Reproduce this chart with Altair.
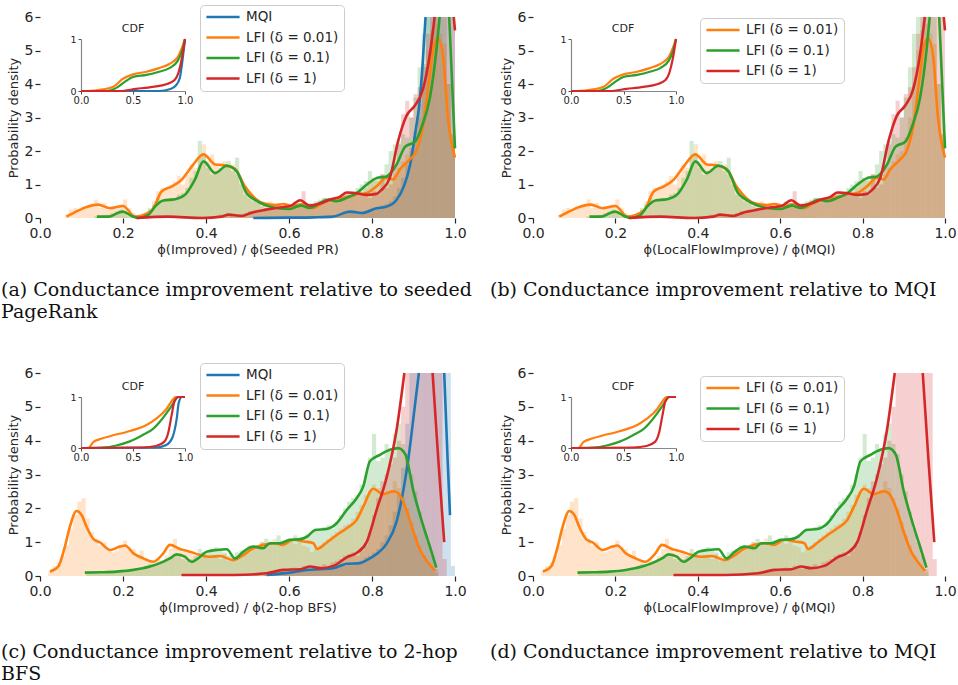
import altair as alt
import pandas as pd

W, H = 958, 685
BIN = 0.01

SERIES = ["MQI", "LFI (δ = 0.01)", "LFI (δ = 0.1)", "LFI (δ = 1)"]
COLORS = ["#1f77b4", "#ff7f0e", "#2ca02c", "#d62728"]

# ---------------- histogram heights (bin width 0.01) ----------------
# set A: panels (a) and (b)
H_A_MQI_START = 0.51
H_A_MQI = [0.02, 0.0, 0.03, 0.0, 0.02, 0.03, 0.0, 0.04, 0.02, 0.03,
           0.03, 0.05, 0.02, 0.04, 0.05, 0.03, 0.06, 0.05, 0.08, 0.06,
           0.1, 0.08, 0.12, 0.15, 0.22, 0.18, 0.15, 0.2, 0.26, 0.3,
           0.32, 0.38, 0.42, 0.5, 0.65, 0.9, 1.2, 1.6, 2.1, 2.6,
           3.4, 4.6, 6.5, 8.5, 10, 11, 10, 9, 7.5]
H_A_O_START = 0.06
H_A_O = [0.1, 0.25, 0.3, 0.2, 0.35, 0.3, 0.4, 0.55, 0.3, 0.45,
         0.25, 0.35, 0.3, 0.4, 0.55, 0.3, 0.15, 0.05, 0.08, 0.1,
         0.25, 0.5, 0.8, 0.9, 0.85, 1.0, 1.1, 1.25, 1.0, 1.3,
         1.6, 1.5, 1.8, 2.2, 1.7, 1.9, 1.6, 1.5, 1.7, 1.55,
         1.6, 1.3, 1.1, 0.9, 0.8, 0.6, 0.55, 0.5, 0.45, 0.5,
         0.4, 0.45, 0.35, 0.3, 0.35, 0.5, 0.4, 0.3, 0.45, 0.35,
         0.4, 0.5, 0.6, 0.45, 0.5, 0.45, 0.6, 0.7, 0.65, 0.75,
         0.8, 0.7, 0.9, 1.1, 1.2, 1.1, 1.3, 1.25, 1.2, 1.3,
         1.5, 1.7, 1.9, 2.0, 2.4, 3.0, 4.0, 5.0, 5.6, 5.8,
         5.5, 5.2, 4.0, 2.5]
H_A_G_START = 0.13
H_A_G = [0.05, 0.05, 0.08, 0.1, 0.15, 0.2, 0.25, 0.15, 0.05, 0.02,
         0.0, 0.05, 0.1, 0.3, 0.4, 0.6, 0.5, 0.55, 0.6, 0.55,
         0.7, 0.75, 0.9, 1.2, 1.4, 2.3, 1.9, 1.5, 1.3, 1.4,
         1.45, 1.6, 1.7, 1.4, 1.8, 1.0, 0.7, 0.6, 0.5, 0.45,
         0.35, 0.3, 0.3, 0.25, 0.3, 0.35, 0.4, 0.3, 0.35, 0.4,
         0.3, 0.35, 0.45, 0.5, 0.55, 0.6, 0.5, 0.55, 0.5, 0.6,
         0.65, 0.7, 0.8, 0.9, 1.0, 1.1, 1.4, 1.2, 1.25, 1.3,
         1.6, 2.0, 2.2, 2.3, 2.5, 2.4, 3.0, 3.6, 4.5, 5.5,
         7, 9, 10, 9, 7, 4, 2.5]
H_A_R_START = 0.23
H_A_R = [0.02, 0.0, 0.03, 0.0, 0.02, 0.03, 0.05, 0.02, 0.0, 0.03,
         0.02, 0.05, 0.03, 0.0, 0.04, 0.05, 0.03, 0.02, 0.04, 0.05,
         0.1, 0.12, 0.08, 0.05, 0.1, 0.12, 0.15, 0.2, 0.15, 0.25,
         0.2, 0.3, 0.25, 0.3, 0.35, 0.3, 0.4, 0.35, 0.45, 0.45,
         0.8, 0.35, 0.3, 0.45, 0.4, 0.5, 0.55, 0.6, 0.5, 0.6,
         0.75, 0.8, 0.7, 0.65, 0.7, 0.75, 0.6, 0.8, 0.7, 1.3,
         0.9, 1.0, 1.5, 2.2, 3.1, 3.5, 3.0, 3.7, 3.9, 4.5,
         5.5, 7, 8, 9, 10, 9, 8]

# set C: panels (c) and (d)
H_C_MQI_START = 0.54
H_C_MQI = [0.03, 0.05, 0.04, 0.08, 0.1, 0.12, 0.1, 0.15, 0.18, 0.2,
           0.15, 0.2, 0.22, 0.2, 0.25, 0.22, 0.28, 0.3, 0.35, 0.3,
           0.4, 0.35, 0.4, 0.45, 0.55, 0.6, 0.7, 0.8, 1.0, 1.2,
           1.5, 1.9, 2.4, 3.2, 4.5, 6.5, 8, 10, 11, 10,
           9, 8, 7, 7, 6.5, 0.3]
H_C_O_START = 0.02
H_C_O = [0.15, 0.3, 0.4, 0.6, 0.9, 1.4, 1.8, 2.2, 2.3, 1.7,
         1.3, 1.1, 0.9, 1.0, 0.8, 0.7, 0.75, 0.9, 1.05, 0.85,
         0.8, 0.6, 0.75, 0.5, 0.45, 0.4, 0.5, 0.45, 0.6, 0.8,
         1.1, 0.85, 0.7, 0.75, 0.65, 0.6, 0.55, 0.7, 0.6, 0.55,
         0.6, 0.5, 0.65, 0.45, 0.5, 0.55, 0.6, 0.75, 0.7, 0.85,
         0.9, 1.0, 0.85, 0.95, 1.1, 0.9, 1.0, 1.05, 1.1, 0.95,
         1.0, 0.9, 0.85, 0.7, 0.8, 0.9, 1.0, 1.1, 1.2, 1.3,
         1.4, 1.5, 1.55, 1.7, 1.9, 2.1, 2.4, 2.5, 2.7, 2.6,
         2.5, 2.4, 2.5, 2.8, 2.6, 2.3, 2.0, 1.6, 1.2, 0.9,
         0.6, 0.4, 0.25, 0.1]
H_C_G_START = 0.11
H_C_G = [0.05, 0.08, 0.1, 0.08, 0.1, 0.12, 0.1, 0.1, 0.12, 0.1,
         0.15, 0.15, 0.2, 0.25, 0.3, 0.35, 0.3, 0.4, 0.45, 0.5,
         0.55, 0.65, 0.6, 0.5, 0.45, 0.5, 0.6, 0.8, 0.7, 0.75,
         0.8, 0.85, 0.75, 0.7, 0.6, 0.55, 0.7, 0.75, 0.8, 0.9,
         0.8, 0.85, 1.0, 1.1, 1.0, 0.95, 1.2, 1.05, 1.0, 1.1,
         1.2, 1.1, 1.15, 1.25, 1.3, 1.4, 1.35, 1.45, 1.5, 1.4,
         1.6, 1.8, 2.0, 2.2, 2.3, 2.4, 2.7, 3.0, 3.5, 4.2,
         3.4, 3.5, 3.9, 3.7, 4.2, 4.5, 3.9, 3.6, 3.0, 2.5,
         1.9, 1.4, 1.0, 0.6, 0.2]
H_C_R_START = 0.34
H_C_R = [0.02, 0.0, 0.03, 0.02, 0.0, 0.03, 0.02, 0.04, 0.0, 0.03,
         0.02, 0.03, 0.05, 0.04, 0.03, 0.06, 0.05, 0.08, 0.06, 0.1,
         0.08, 0.12, 0.15, 0.18, 0.2, 0.15, 0.22, 0.25, 0.2, 0.3,
         0.25, 0.22, 0.28, 0.3, 0.35, 0.3, 0.4, 0.45, 0.5, 0.6,
         0.65, 0.7, 0.6, 0.75, 0.9, 1.3, 1.8, 2.3, 2.8, 3.0,
         3.3, 3.5, 4.0, 5.0, 6.5, 8, 10, 11, 12, 11,
         9, 8, 7, 0.5]

# ---------------- density curves (None = curve leaves the 0-6 window) ----------------
K_A_MQI_X = [0.514, 0.60, 0.66, 0.706, 0.747, 0.775, 0.811, 0.835, 0.859, 0.877, 0.892, 0.905, 0.915, 0.922, 0.929]
K_A_MQI_Y = [0.0, 0.01, 0.02, 0.04, 0.19, 0.15, 0.29, 0.34, 0.54, 0.95, 1.6, 2.6, 3.5, 4.6, 6.0]
K_A_O_X = [0.064, 0.092, 0.108, 0.14, 0.169, 0.20, 0.229, 0.269, 0.293, 0.317, 0.341, 0.366, 0.394, 0.422,
           0.446, 0.47, 0.494, 0.518, 0.538, 0.57, 0.586, 0.61, 0.634, 0.658, 0.682, 0.706, 0.73, 0.763,
           0.787, 0.811, 0.835, 0.851, 0.867, 0.891, 0.907, 0.923, 0.939, 0.951, 0.959, 0.971, 0.983, 1.0]
K_A_O_Y = [0.04, 0.22, 0.31, 0.40, 0.29, 0.36, 0.04, 0.22, 0.79, 0.94, 1.14, 1.54, 1.90, 1.6,
           1.57, 1.47, 0.94, 0.59, 0.44, 0.39, 0.42, 0.36, 0.42, 0.30, 0.45, 0.55, 0.6, 0.7,
           0.75, 0.95, 1.2, 1.15, 1.45, 1.75, 2.0, 2.75, 4.25, 5.24, 5.36, 4.85, 3.0, 1.8]
K_A_G_X = [0.137, 0.165, 0.189, 0.20, 0.221, 0.237, 0.261, 0.277, 0.297, 0.325, 0.349, 0.373, 0.394,
           0.422, 0.45, 0.474, 0.498, 0.518, 0.542, 0.57, 0.602, 0.627, 0.65, 0.675, 0.695, 0.715,
           0.739, 0.763, 0.787, 0.811, 0.835, 0.859, 0.88, 0.904, 0.92, 0.94, 0.956, 0.963, None, 0.986, 1.0]
K_A_G_Y = [0.04, 0.04, 0.16, 0.19, 0.06, 0.0, 0.09, 0.34, 0.52, 0.56, 0.69, 1.14, 1.69,
           1.34, 1.56, 1.39, 0.74, 0.54, 0.39, 0.30, 0.27, 0.37, 0.30, 0.45, 0.55, 0.50,
           0.60, 0.74, 0.99, 1.19, 1.24, 1.59, 2.13, 2.28, 2.73, 3.62, 5.11, 6.0, None, 6.0, 2.08]
K_A_R_X = [0.233, 0.309, 0.39, 0.438, 0.454, 0.486, 0.51, 0.546, 0.586, 0.602, 0.627, 0.65, 0.675, 0.699,
           0.723, 0.739, 0.763, 0.787, 0.811, 0.823, 0.843, 0.863, 0.883, 0.903, 0.923, 0.939, 0.951,
           None, 0.997, 1.0]
K_A_R_Y = [0.0, 0.04, 0.0, 0.04, 0.1, 0.06, 0.16, 0.25, 0.33, 0.35, 0.53, 0.37, 0.43, 0.55,
           0.64, 0.76, 0.74, 0.69, 0.72, 0.84, 1.2, 2.3, 3.05, 3.35, 3.85, 4.85, 6.0,
           None, 6.0, 5.6]

K_C_MQI_X = [0.546, 0.602, 0.643, 0.675, 0.707, 0.739, 0.771, 0.787, 0.811, 0.835, 0.859, 0.872, 0.888,
             0.903, 0.913, None, 0.974, 0.982, 0.988]
K_C_MQI_Y = [0.03, 0.1, 0.18, 0.2, 0.23, 0.36, 0.38, 0.47, 0.65, 0.95, 1.6, 2.3, 3.5,
             5.0, 6.0, None, 6.0, 3.5, 1.8]
K_C_O_X = [0.024, 0.044, 0.06, 0.072, 0.088, 0.1, 0.112, 0.129, 0.145, 0.169, 0.193, 0.205, 0.225, 0.249,
           0.273, 0.297, 0.313, 0.337, 0.361, 0.386, 0.41, 0.434, 0.466, 0.49, 0.514, 0.538, 0.562, 0.586,
           0.61, 0.635, 0.659, 0.667, 0.691, 0.715, 0.739, 0.763, 0.779, 0.803, 0.827, 0.851, 0.863, 0.88,
           0.90, 0.916, 0.935, 0.952]
K_C_O_Y = [0.13, 0.28, 0.87, 1.46, 1.92, 1.81, 1.46, 1.09, 0.99, 0.77, 0.87, 0.90, 0.67, 0.52,
           0.42, 0.67, 0.92, 0.80, 0.72, 0.62, 0.57, 0.59, 0.47, 0.62, 0.82, 0.92, 0.97, 0.92,
           1.07, 1.02, 0.97, 0.80, 0.99, 1.21, 1.41, 1.66, 2.05, 2.58, 2.42, 2.50, 2.45, 2.05,
           1.3, 0.77, 0.4, 0.15]
K_C_G_X = [0.108, 0.145, 0.185, 0.225, 0.265, 0.289, 0.313, 0.329, 0.349, 0.365, 0.386, 0.402, 0.426,
           0.45, 0.47, 0.49, 0.514, 0.538, 0.554, 0.578, 0.602, 0.627, 0.643, 0.663, 0.691, 0.715,
           0.739, 0.763, 0.779, 0.795, 0.819, 0.843, 0.863, 0.88, 0.90, 0.923, 0.94, 0.955]
K_C_G_Y = [0.1, 0.11, 0.13, 0.18, 0.28, 0.38, 0.52, 0.64, 0.57, 0.42, 0.57, 0.72, 0.77,
           0.79, 0.52, 0.72, 0.87, 0.82, 0.97, 0.97, 1.07, 1.09, 1.16, 1.36, 1.39, 1.56,
           1.95, 2.30, 2.65, 3.39, 3.58, 3.73, 3.78, 3.6, 2.5, 1.5, 0.85, 0.25]
K_C_R_X = [0.341, 0.466, 0.546, 0.586, 0.627, 0.651, 0.675, 0.707, 0.739, 0.763, 0.787, 0.811, 0.835,
           0.859, 0.878, None, 0.946, 0.96, 0.974]
K_C_R_Y = [0.03, 0.03, 0.08, 0.18, 0.2, 0.28, 0.23, 0.3, 0.55, 0.68, 1.0, 1.95, 2.9,
           4.3, 6.0, None, 6.0, 3.4, 1.0]

# ---------------- CDF insets ----------------
C_A_MQI_X = [0, 0.75, 0.86, 0.91, 0.95, 0.97, 1.0]
C_A_MQI_Y = [0, 0, 0.04, 0.1, 0.25, 0.5, 1.0]
C_A_O_X = [0, 0.06, 0.21, 0.31, 0.40, 0.5, 0.63, 0.75, 0.85, 0.93, 0.97, 1.0]
C_A_O_Y = [0, 0, 0.03, 0.08, 0.23, 0.32, 0.37, 0.44, 0.52, 0.65, 0.83, 1.0]
C_A_G_X = [0, 0.24, 0.34, 0.43, 0.5, 0.63, 0.75, 0.85, 0.93, 0.97, 1.0]
C_A_G_Y = [0, 0.0, 0.06, 0.19, 0.27, 0.31, 0.37, 0.44, 0.58, 0.76, 1.0]
C_A_R_X = [0, 0.37, 0.53, 0.69, 0.82, 0.9, 0.94, 0.97, 1.0]
C_A_R_Y = [0, 0, 0.04, 0.08, 0.13, 0.21, 0.37, 0.63, 1.0]

C_C_MQI_X = [0, 0.72, 0.82, 0.88, 0.92, 0.94, 0.97, 1.0]
C_C_MQI_Y = [0, 0.01, 0.06, 0.21, 0.57, 0.89, 1.0, 1.0]
C_C_O_X = [0, 0.07, 0.12, 0.21, 0.31, 0.43, 0.53, 0.63, 0.72, 0.82, 0.88, 0.91, 1.0]
C_C_O_Y = [0, 0, 0.12, 0.19, 0.25, 0.31, 0.37, 0.45, 0.57, 0.76, 0.94, 1.0, 1.0]
C_C_G_X = [0, 0.21, 0.34, 0.47, 0.59, 0.69, 0.78, 0.85, 0.9, 0.93, 1.0]
C_C_G_Y = [0, 0.01, 0.05, 0.13, 0.25, 0.37, 0.57, 0.76, 0.92, 1.0, 1.0]
C_C_R_X = [0, 0.59, 0.72, 0.8, 0.84, 0.87, 0.9, 0.94, 1.0]
C_C_R_Y = [0, 0.01, 0.04, 0.12, 0.31, 0.63, 0.92, 1.0, 1.0]

MAIN_X_TICKS = [0.0, 0.2, 0.4, 0.6, 0.8, 1.0]
MAIN_Y_TICKS = [0, 1, 2, 3, 4, 5, 6]
CDF_X_TICKS = [0.0, 0.5, 1.0]
CDF_Y_TICKS = [0, 1]

X_TITLES = ["ϕ(Improved) / ϕ(Seeded PR)", "ϕ(LocalFlowImprove) / ϕ(MQI)",
            "ϕ(Improved) / ϕ(2-hop BFS)", "ϕ(LocalFlowImprove) / ϕ(MQI)"]
CAPTIONS = ["(a) Conductance improvement relative to seeded\nPageRank",
            "(b) Conductance improvement relative to MQI",
            "(c) Conductance improvement relative to 2-hop\nBFS",
            "(d) Conductance improvement relative to MQI"]

SET_A = {
    "hist": [(H_A_MQI_START, H_A_MQI), (H_A_O_START, H_A_O), (H_A_G_START, H_A_G), (H_A_R_START, H_A_R)],
    "kde": [(K_A_MQI_X, K_A_MQI_Y), (K_A_O_X, K_A_O_Y), (K_A_G_X, K_A_G_Y), (K_A_R_X, K_A_R_Y)],
    "cdf": [(C_A_MQI_X, C_A_MQI_Y), (C_A_O_X, C_A_O_Y), (C_A_G_X, C_A_G_Y), (C_A_R_X, C_A_R_Y)],
}
SET_C = {
    "hist": [(H_C_MQI_START, H_C_MQI), (H_C_O_START, H_C_O), (H_C_G_START, H_C_G), (H_C_R_START, H_C_R)],
    "kde": [(K_C_MQI_X, K_C_MQI_Y), (K_C_O_X, K_C_O_Y), (K_C_G_X, K_C_G_Y), (K_C_R_X, K_C_R_Y)],
    "cdf": [(C_C_MQI_X, C_C_MQI_Y), (C_C_O_X, C_C_O_Y), (C_C_G_X, C_C_G_Y), (C_C_R_X, C_C_R_Y)],
}

# ---------------- layout (pixel ranges on the 958x685 canvas) ----------------
LAYOUT = [
    dict(x=[40, 455], y=[218, 17], ix=[81, 185], iy=[91, 39], leg=[200, 5], cdf=[133, 29], cap=[1, 281]),
    dict(x=[533, 945], y=[218, 17], ix=[571, 676], iy=[91, 39], leg=[700, 18], cdf=[623, 29], cap=[490, 281]),
    dict(x=[40, 455], y=[576, 373], ix=[81, 185], iy=[448, 397], leg=[200, 363], cdf=[133, 387], cap=[1, 643]),
    dict(x=[533, 945], y=[576, 373], ix=[571, 676], iy=[448, 397], leg=[700, 376], cdf=[623, 387], cap=[490, 643]),
]

FONT = "DejaVu Sans"
TXT = "#262626"


def hist_rows(start, heights, name):
    return [{"x0": round(start + i * BIN, 4), "x1": round(start + (i + 1) * BIN, 4), "h": h, "s": name}
            for i, h in enumerate(heights)]


def curve_rows(xs, ys, name):
    rows, seg = [], 0
    for x, y in zip(xs, ys):
        if y is None:
            seg += 1
            continue
        rows.append({"x": x, "y": y, "s": name, "seg": f"{name}#{seg}"})
    return rows


def panel(i, data, with_mqi):
    L = LAYOUT[i]
    idx = [0, 1, 2, 3] if with_mqi else [1, 2, 3]
    names = [SERIES[k] for k in idx]
    cols = [COLORS[k] for k in idx]

    hrows, krows, crows = [], [], []
    for k in idx:
        hrows += hist_rows(data["hist"][k][0], data["hist"][k][1], SERIES[k])
        krows += curve_rows(data["kde"][k][0], data["kde"][k][1], SERIES[k])
        crows += curve_rows(data["cdf"][k][0], data["cdf"][k][1], SERIES[k])

    xs = alt.Scale(domain=[0, 1], range=L["x"], nice=False, zero=False)
    ys = alt.Scale(domain=[0, 6], range=L["y"], nice=False, zero=False, clamp=True)
    ixs = alt.Scale(domain=[0, 1], range=L["ix"], nice=False, zero=False)
    iys = alt.Scale(domain=[0, 1], range=L["iy"], nice=False, zero=False)
    cscale = alt.Scale(domain=names, range=cols)

    xaxis = alt.Axis(orient="bottom", offset=L["y"][0] - H, values=MAIN_X_TICKS, format=".1f",
                     domain=False, grid=False, tickSize=5, tickWidth=1.2, tickColor=TXT,
                     labelFont=FONT, labelFontSize=14, labelColor=TXT, labelPadding=3,
                     labelFlush=False, labelOverlap=False,
                     title=X_TITLES[i], titleFont=FONT, titleFontSize=13, titleFontWeight="normal",
                     titleColor=TXT, titlePadding=3)
    yaxis = alt.Axis(orient="left", offset=-L["x"][0], values=MAIN_Y_TICKS, format="d",
                     domain=False, grid=False, tickSize=5, tickWidth=1.2, tickColor=TXT,
                     labelFont=FONT, labelFontSize=14, labelColor=TXT, labelPadding=2,
                     labelOverlap=False,
                     title="Probability density", titleFont=FONT, titleFontSize=13,
                     titleFontWeight="normal", titleColor=TXT, titlePadding=4)

    bars = alt.Chart(pd.DataFrame(hrows)).mark_bar(opacity=0.22).encode(
        x=alt.X("x0:Q", scale=xs, axis=xaxis),
        x2="x1:Q",
        y=alt.Y("h:Q", scale=ys, axis=yaxis),
        y2=alt.datum(0),
        color=alt.Color("s:N", scale=cscale, legend=None),
    )

    legend = alt.Legend(orient="none", legendX=L["leg"][0], legendY=L["leg"][1], title=None,
                        symbolType="stroke", symbolSize=1100, symbolStrokeWidth=2.6, clipHeight=14,
                        labelFont=FONT, labelFontSize=13.5, labelColor=TXT, labelOffset=5,
                        rowPadding=6.5, padding=5, fillColor="white", strokeColor="#cccccc",
                        cornerRadius=4)
    lines = alt.Chart(pd.DataFrame(krows)).mark_line(strokeWidth=2.6, interpolate="monotone").encode(
        x=alt.X("x:Q", scale=xs, axis=None),
        y=alt.Y("y:Q", scale=ys, axis=None),
        color=alt.Color("s:N", scale=cscale, legend=legend),
        detail="seg:N",
    )

    ixaxis = alt.Axis(orient="bottom", offset=L["iy"][0] - H, values=CDF_X_TICKS, format=".1f",
                      domain=True, domainColor="#888888", domainWidth=1.2, grid=False,
                      tickSize=3, tickColor="#555555", labelFont=FONT, labelFontSize=10,
                      labelColor=TXT, labelPadding=1, labelFlush=False, labelOverlap=False, title=None)
    iyaxis = alt.Axis(orient="left", offset=-L["ix"][0], values=CDF_Y_TICKS, format="d",
                      domain=True, domainColor="#888888", domainWidth=1.2, grid=False,
                      tickSize=3, tickColor="#555555", labelFont=FONT, labelFontSize=9.5,
                      labelColor=TXT, labelPadding=2, labelOverlap=False, title=None)
    inset = alt.Chart(pd.DataFrame(crows)).mark_line(strokeWidth=2.2, interpolate="monotone").encode(
        x=alt.X("x:Q", scale=ixs, axis=ixaxis),
        y=alt.Y("y:Q", scale=iys, axis=iyaxis),
        color=alt.Color("s:N", scale=cscale, legend=None),
        detail="seg:N",
    )

    cdf_title = alt.Chart(pd.DataFrame({"t": ["CDF"]})).mark_text(
        font=FONT, fontSize=11, color=TXT, align="center", baseline="middle"
    ).encode(text="t:N", x=alt.value(L["cdf"][0]), y=alt.value(L["cdf"][1]))

    caption = alt.Chart(pd.DataFrame({"t": [CAPTIONS[i]]})).mark_text(
        font="DejaVu Serif", fontSize=19, color="#111111", align="left", baseline="top",
        lineBreak="\n", lineHeight=22
    ).encode(text="t:N", x=alt.value(L["cap"][0]), y=alt.value(L["cap"][1]))

    return [bars, lines, inset, cdf_title, caption]


layers = []
layers += panel(0, SET_A, True)
layers += panel(1, SET_A, False)
layers += panel(2, SET_C, True)
layers += panel(3, SET_C, False)

chart = alt.layer(*layers).resolve_scale(
    x="independent", y="independent", color="independent"
).resolve_axis(
    x="independent", y="independent"
).resolve_legend(
    color="independent"
).properties(
    width=W, height=H, autosize=alt.AutoSizeParams(type="none"), padding=0, background="white"
).configure_view(stroke=None)

chart.save("out.html", embed_options={"renderer": "svg", "actions": False})
